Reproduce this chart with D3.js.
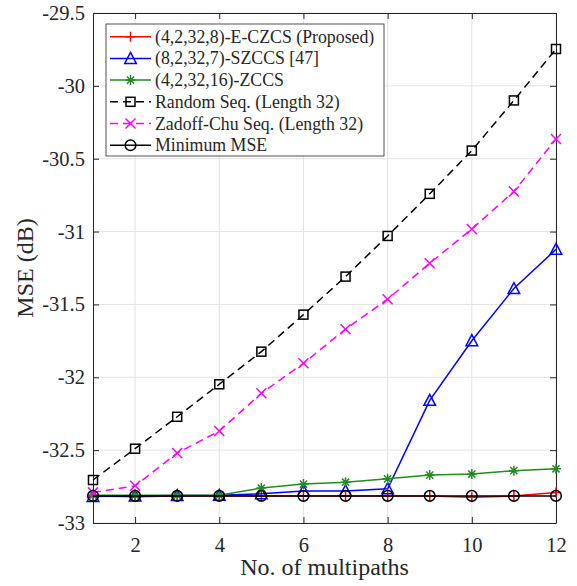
<!DOCTYPE html>
<html>
<head>
<meta charset="utf-8">
<script src="https://cdn.jsdelivr.net/npm/d3@7"></script>
<style>
  body { margin: 0; background: #fff; }
  svg text { font-family: "Liberation Serif", "Times New Roman", serif; fill: #262626; }
</style>
</head>
<body>
<div id="chart"></div>
<script>
const MARGIN = { TOP: 13, BOTTOM: 63, LEFT: 93, RIGHT: 21 }
const WIDTH = 577 - MARGIN.LEFT - MARGIN.RIGHT
const HEIGHT = 586 - MARGIN.TOP - MARGIN.BOTTOM

const multipaths = [1, 2, 3, 4, 5, 6, 7, 8, 9, 10, 11, 12]
const xTicks = [2, 4, 6, 8, 10, 12]
const yTicks = [-29.5, -30, -30.5, -31, -31.5, -32, -32.5, -33]

const eczcs = [-32.815, -32.82, -32.815, -32.815, -32.815, -32.815, -32.815, -32.815, -32.815, -32.824, -32.815, -32.79]
const szccs = [-32.818, -32.815, -32.812, -32.81, -32.8, -32.78, -32.78, -32.765, -32.158, -31.749, -31.391, -31.122]
const zccs = [-32.81, -32.81, -32.81, -32.81, -32.76, -32.733, -32.72, -32.697, -32.671, -32.664, -32.641, -32.628]
const randomSeq = [-32.705, -32.49, -32.271, -32.048, -31.824, -31.57, -31.309, -31.03, -30.741, -30.444, -30.1, -29.747]
const zadoffChu = [-32.79, -32.745, -32.52, -32.369, -32.11, -31.904, -31.67, -31.464, -31.217, -30.983, -30.725, -30.365]
const minimumMse = [-32.814, -32.814, -32.814, -32.814, -32.814, -32.814, -32.814, -32.814, -32.814, -32.814, -32.814, -32.814]

const series = [
  { label: "(4,2,32,8)-E-CZCS (Proposed)", values: eczcs, color: "#ff0000", dash: null, marker: "plus" },
  { label: "(8,2,32,7)-SZCCS [47]", values: szccs, color: "#0000ff", dash: null, marker: "triangle" },
  { label: "(4,2,32,16)-ZCCS", values: zccs, color: "#228b22", dash: null, marker: "star" },
  { label: "Random Seq. (Length 32)", values: randomSeq, color: "#000000", dash: "8,5", marker: "square" },
  { label: "Zadoff-Chu Seq. (Length 32)", values: zadoffChu, color: "#ff00ff", dash: "8,5", marker: "cross" },
  { label: "Minimum MSE", values: minimumMse, color: "#000000", dash: null, marker: "circle" },
]

const svg = d3.select("#chart")
              .append("svg")
              .attr("width", 577)
              .attr("height", 586)
              .append("g")
              .attr("transform", `translate(${MARGIN.LEFT}, ${MARGIN.TOP})`)

const x = d3.scaleLinear().domain([1, 12]).range([0, WIDTH])
const y = d3.scaleLinear().domain([-33, -29.5]).range([HEIGHT, 0])

// grid
svg.append("g")
   .selectAll("line")
   .data(xTicks)
   .join("line")
   .attr("x1", d => x(d)).attr("x2", d => x(d))
   .attr("y1", 0).attr("y2", HEIGHT)
   .attr("stroke", "#e3e3e3")
svg.append("g")
   .selectAll("line")
   .data(yTicks)
   .join("line")
   .attr("x1", 0).attr("x2", WIDTH)
   .attr("y1", d => y(d)).attr("y2", d => y(d))
   .attr("stroke", "#e3e3e3")

// axes (ticks point inward, box on)
svg.append("g")
   .attr("transform", `translate(0, ${HEIGHT})`)
   .call(d3.axisBottom(x).tickValues(xTicks).tickSizeInner(-6).tickSizeOuter(0).tickPadding(14))
svg.append("g")
   .call(d3.axisLeft(y).tickValues(yTicks).tickFormat(d => String(d)).tickSizeInner(-6).tickSizeOuter(0).tickPadding(8))
svg.append("g")
   .call(d3.axisTop(x).tickValues(xTicks).tickSizeInner(-6).tickSizeOuter(0).tickFormat(""))
svg.append("g")
   .attr("transform", `translate(${WIDTH}, 0)`)
   .call(d3.axisRight(y).tickValues(yTicks).tickSizeInner(-6).tickSizeOuter(0).tickFormat(""))

svg.selectAll(".domain").attr("stroke", "#262626")
svg.selectAll(".tick line").attr("stroke", "#262626")
svg.selectAll(".tick text")
   .style("font-family", "'Liberation Serif', serif")
   .style("font-size", "20.5px")
   .attr("fill", "#262626")

svg.append("text")
   .attr("x", WIDTH / 2)
   .attr("y", HEIGHT + 52)
   .attr("text-anchor", "middle")
   .style("font-size", "24px")
   .text("No. of multipaths")
svg.append("text")
   .attr("x", -HEIGHT / 2)
   .attr("y", -60)
   .attr("text-anchor", "middle")
   .attr("transform", "rotate(-90)")
   .style("font-size", "24px")
   .text("MSE (dB)")

function drawMarker(g, type, color, cx, cy) {
  const s = 5
  if (type === "plus") {
    g.append("path").attr("d", `M${cx - s},${cy}H${cx + s}M${cx},${cy - s}V${cy + s}`)
     .attr("stroke", color).attr("stroke-width", 1.5).attr("fill", "none")
  } else if (type === "triangle") {
    g.append("path").attr("d", `M${cx},${cy - 6}L${cx + 5.8},${cy + 5}L${cx - 5.8},${cy + 5}Z`)
     .attr("stroke", color).attr("stroke-width", 1.5).attr("fill", "none")
  } else if (type === "star") {
    g.append("path")
     .attr("d", `M${cx - s},${cy}H${cx + s}M${cx},${cy - s}V${cy + s}M${cx - 3.6},${cy - 3.6}L${cx + 3.6},${cy + 3.6}M${cx - 3.6},${cy + 3.6}L${cx + 3.6},${cy - 3.6}`)
     .attr("stroke", color).attr("stroke-width", 1.5).attr("fill", "none")
  } else if (type === "square") {
    g.append("rect").attr("x", cx - 4.5).attr("y", cy - 4.5).attr("width", 9).attr("height", 9)
     .attr("stroke", color).attr("stroke-width", 1.5).attr("fill", "none")
  } else if (type === "cross") {
    g.append("path").attr("d", `M${cx - s},${cy - s}L${cx + s},${cy + s}M${cx - s},${cy + s}L${cx + s},${cy - s}`)
     .attr("stroke", color).attr("stroke-width", 1.5).attr("fill", "none")
  } else if (type === "circle") {
    g.append("circle").attr("cx", cx).attr("cy", cy).attr("r", 5.3)
     .attr("stroke", color).attr("stroke-width", 1.5).attr("fill", "none")
  }
}

const line = d3.line()
               .x((d, i) => x(multipaths[i]))
               .y(d => y(d))

series.forEach(s => {
  const g = svg.append("g")
  g.append("path")
   .datum(s.values)
   .attr("fill", "none")
   .attr("stroke", s.color)
   .attr("stroke-width", 1.5)
   .attr("stroke-dasharray", s.dash)
   .attr("d", line)
  s.values.forEach((v, i) => drawMarker(g, s.marker, s.color, x(multipaths[i]), y(v)))
})

// legend
const legend = svg.append("g").attr("transform", "translate(13, 11)")
legend.append("rect")
      .attr("width", 278)
      .attr("height", 132)
      .attr("fill", "#fff")
      .attr("stroke", "#262626")
      .attr("stroke-width", 0.8)
series.forEach((s, i) => {
  const ly = 12.7 + i * 21.7
  legend.append("line")
        .attr("x1", 4).attr("x2", 45)
        .attr("y1", ly).attr("y2", ly)
        .attr("stroke", s.color)
        .attr("stroke-width", 1.5)
        .attr("stroke-dasharray", s.dash)
  drawMarker(legend, s.marker, s.color, 24.5, ly)
  legend.append("text")
        .attr("x", 49)
        .attr("y", ly + 6)
        .style("font-size", "17.8px")
        .text(s.label)
})
</script>
</body>
</html>
